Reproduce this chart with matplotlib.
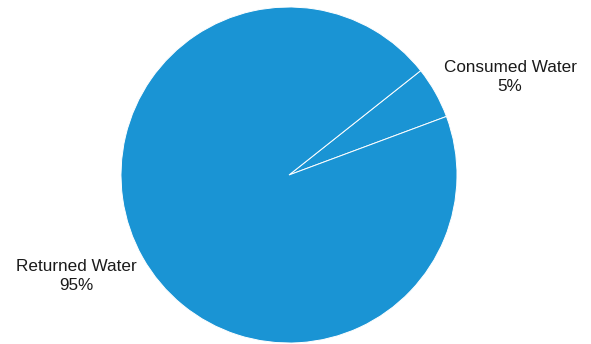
import matplotlib.pyplot as plt

labels = ["Consumed Water", "Returned Water"]
shares = [5, 95]
slice_color = "#1a94d4"

W, H = 591, 344
fig = plt.figure(figsize=(W / 100, H / 100), dpi=100)

# pie centre and radius in pixels
cx, cy, r = 289, 175, 168
ax = fig.add_axes([(cx - r) / W, (H - cy - r) / H, 2 * r / W, 2 * r / H])
ax.pie(shares, colors=[slice_color] * len(shares), startangle=20.4,
       counterclock=True, radius=1,
       wedgeprops=dict(edgecolor="white", linewidth=0.7))
ax.set_xlim(-1, 1)
ax.set_ylim(-1, 1)
ax.set_aspect("equal")
ax.axis("off")

font = dict(family="Liberation Sans", fontsize=12.3, color="#1a1a1a",
            ha="center", va="center", linespacing=1.28)
label_pos = [(510, 77), (76, 276)]
for (x, y), name, pct in zip(label_pos, labels, shares):
    fig.text(x / W, 1 - y / H, f"{name}\n{pct}%", **font)

fig.savefig("out.png", dpi=100)
